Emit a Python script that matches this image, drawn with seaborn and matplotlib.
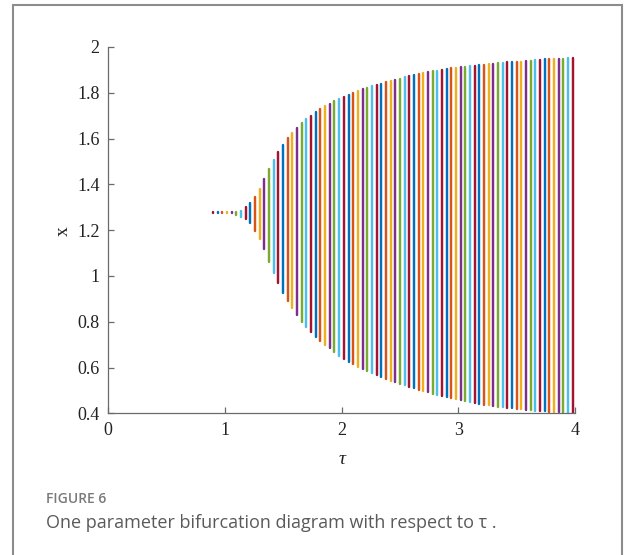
import matplotlib
matplotlib.use("Agg")
import matplotlib.pyplot as plt
from matplotlib.patches import Rectangle
import seaborn as sns
import pandas as pd

# ---- data ----
tau = [0.90, 0.94, 0.98, 1.02, 1.06, 1.10, 1.14, 1.18, 1.22, 1.26,
       1.30, 1.34, 1.38, 1.42, 1.46, 1.50, 1.54, 1.58, 1.62, 1.66,
       1.70, 1.74, 1.78, 1.82, 1.86, 1.90, 1.94, 1.98, 2.02, 2.06,
       2.10, 2.14, 2.18, 2.22, 2.26, 2.30, 2.34, 2.38, 2.42, 2.46,
       2.50, 2.54, 2.58, 2.62, 2.66, 2.70, 2.74, 2.78, 2.82, 2.86,
       2.90, 2.94, 2.98, 3.02, 3.06, 3.10, 3.14, 3.18, 3.22, 3.26,
       3.30, 3.34, 3.38, 3.42, 3.46, 3.50, 3.54, 3.58, 3.62, 3.66,
       3.70, 3.74, 3.78, 3.82, 3.86, 3.90, 3.94, 3.98]

x_max = [1.278, 1.278, 1.278, 1.279, 1.279, 1.280, 1.285, 1.300, 1.320, 1.346,
         1.378, 1.423, 1.465, 1.506, 1.541, 1.572, 1.601, 1.623, 1.646, 1.666,
         1.684, 1.700, 1.716, 1.729, 1.742, 1.752, 1.764, 1.774, 1.783, 1.791,
         1.800, 1.807, 1.815, 1.822, 1.828, 1.834, 1.839, 1.845, 1.850, 1.855,
         1.861, 1.867, 1.873, 1.878, 1.882, 1.886, 1.889, 1.893, 1.896, 1.900,
         1.903, 1.906, 1.909, 1.912, 1.914, 1.916, 1.918, 1.920, 1.922, 1.925,
         1.927, 1.929, 1.930, 1.932, 1.933, 1.934, 1.935, 1.938, 1.940, 1.941,
         1.943, 1.945, 1.946, 1.947, 1.948, 1.949, 1.950, 1.951]

x_min = [1.274, 1.274, 1.274, 1.273, 1.273, 1.266, 1.259, 1.250, 1.230, 1.197,
         1.162, 1.117, 1.062, 1.014, 0.968, 0.927, 0.892, 0.859, 0.829, 0.800,
         0.778, 0.756, 0.734, 0.716, 0.698, 0.684, 0.666, 0.652, 0.637, 0.625,
         0.615, 0.604, 0.592, 0.585, 0.576, 0.569, 0.560, 0.551, 0.543, 0.536,
         0.529, 0.522, 0.515, 0.509, 0.503, 0.497, 0.491, 0.486, 0.481, 0.476,
         0.471, 0.466, 0.461, 0.457, 0.453, 0.449, 0.445, 0.442, 0.438, 0.435,
         0.432, 0.429, 0.426, 0.424, 0.421, 0.419, 0.417, 0.415, 0.413, 0.411,
         0.410, 0.408, 0.407, 0.405, 0.404, 0.403, 0.402, 0.401]

matlab_colors = ["#A2142F", "#0072BD", "#D95319", "#EDB120",
                 "#7E2F8E", "#77AC30", "#4DBEEE"]

xticks = [0, 1, 2, 3, 4]
yticks = [0.4, 0.6, 0.8, 1.0, 1.2, 1.4, 1.6, 1.8, 2.0]
yticklabels = ["0.4", "0.6", "0.8", "1", "1.2", "1.4", "1.6", "1.8", "2"]

# long-form table: two points (min, max) per tau value
rows = []
for i, (t, lo, hi) in enumerate(zip(tau, x_min, x_max)):
    rows.append({"tau": t, "x": lo, "bar": i})
    rows.append({"tau": t, "x": hi, "bar": i})
df = pd.DataFrame(rows)
palette = [matlab_colors[i % len(matlab_colors)] for i in range(len(tau))]

sns.set_style("white")
plt.rcParams["font.family"] = ["Liberation Serif", "DejaVu Serif"]

fig = plt.figure(figsize=(6.25, 5.55), dpi=100)
ax = fig.add_axes([0.1728, 0.2553, 0.7472, 0.6602])

sns.lineplot(data=df, x="tau", y="x", hue="bar", palette=palette,
             estimator=None, sort=False, legend=False, ax=ax,
             linewidth=1.75, solid_capstyle="round")

ax.set_xlim(0, 4)
ax.set_ylim(0.4, 2)
ax.set_xticks(xticks)
ax.set_xticklabels([str(v) for v in xticks])
ax.set_yticks(yticks)
ax.set_yticklabels(yticklabels)
ax.set_xlabel("")
ax.set_ylabel("")
for side in ["top", "right"]:
    ax.spines[side].set_visible(False)
for side in ["left", "bottom"]:
    ax.spines[side].set_color("#6a6a6a")
    ax.spines[side].set_linewidth(0.9)
ax.tick_params(direction="in", length=4, width=0.9, color="#6a6a6a",
               labelsize=13, labelcolor="#222222", pad=6,
               left=True, bottom=True)

fig.text(342 / 625, 1 - 459 / 555, "τ", fontsize=14, fontstyle="italic",
         ha="center", va="center", color="#222222")
fig.text(63 / 625, 1 - 231 / 555, "x", fontsize=14, rotation=90,
         ha="center", va="center", color="#222222")

fig.text(46 / 625, 1 - 499 / 555, "FIGURE 6", family="Open Sans",
         fontweight="semibold", fontsize=10, color="#7a7a7a",
         ha="left", va="center")
fig.text(46 / 625, 1 - 523 / 555,
         "One parameter bifurcation diagram with respect to τ .",
         family="Open Sans", fontsize=13, color="#5a5a5a",
         ha="left", va="center")

fig.patches.append(Rectangle((12.5 / 625, -0.05), (622 - 12.5) / 625,
                             1.05 - 5 / 555, transform=fig.transFigure,
                             fill=False, edgecolor="#8c8c8c", linewidth=1.5))

fig.savefig("out.png", dpi=100)
